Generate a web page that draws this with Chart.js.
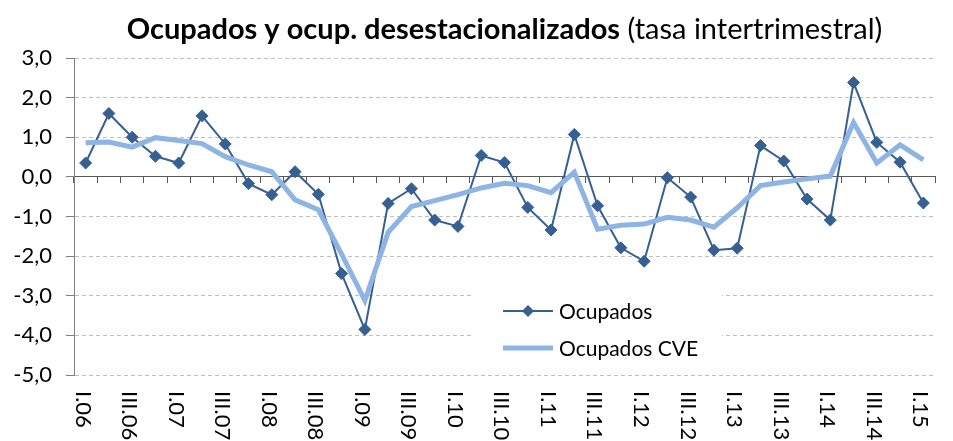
<!DOCTYPE html>
<html>
<head>
<meta charset="utf-8">
<script src="https://cdn.jsdelivr.net/npm/chart.js@4.4.1/dist/chart.umd.min.js"></script>
<style>
  html, body { margin: 0; padding: 0; background: #fff; }
  #wrap { width: 953px; height: 441px; }
</style>
</head>
<body>
<div id="wrap"><canvas id="chart"></canvas></div>
<script>
const quarters = [
  "I.06", "II.06", "III.06", "IV.06",
  "I.07", "II.07", "III.07", "IV.07",
  "I.08", "II.08", "III.08", "IV.08",
  "I.09", "II.09", "III.09", "IV.09",
  "I.10", "II.10", "III.10", "IV.10",
  "I.11", "II.11", "III.11", "IV.11",
  "I.12", "II.12", "III.12", "IV.12",
  "I.13", "II.13", "III.13", "IV.13",
  "I.14", "II.14", "III.14", "IV.14",
  "I.15"
];
const ocupados = [
  0.35, 1.60, 1.00, 0.52, 0.35, 1.54, 0.83, -0.17, -0.45, 0.13,
  -0.44, -2.44, -3.85, -0.67, -0.30, -1.09, -1.25, 0.54, 0.36, -0.77,
  -1.34, 1.07, -0.73, -1.79, -2.13, -0.02, -0.51, -1.85, -1.80, 0.79,
  0.40, -0.56, -1.09, 2.38, 0.87, 0.37, -0.66
];
const ocupadosCVE = [
  0.86, 0.88, 0.75, 0.99, 0.92, 0.84, 0.51, 0.30, 0.13, -0.58,
  -0.83, -1.95, -3.12, -1.40, -0.75, -0.60, -0.45, -0.28, -0.16, -0.22,
  -0.40, 0.12, -1.32, -1.22, -1.19, -1.02, -1.09, -1.27, -0.78, -0.22,
  -0.13, -0.05, 0.02, 1.37, 0.35, 0.81, 0.43
];
const yMin = -5, yMax = 3, yStep = 1;

const FONT = "Lato, 'Open Sans', sans-serif";
const DARK = "#376092";
const LIGHT = "#8DB4E2";

// title, rotated quarter labels and the inset legend
const decor = {
  id: "decor",
  beforeDraw(chart) {
    const { ctx, width, height } = chart;
    ctx.save();
    ctx.fillStyle = "#fff";
    ctx.fillRect(0, 0, width, height);
    ctx.restore();
  },
  afterDraw(chart) {
    const { ctx, chartArea, scales: { x } } = chart;
    ctx.save();

    // title: bold part + normal part
    const bold = "Ocupados y ocup. desestacionalizados";
    const rest = " (tasa intertrimestral)";
    const ts = 29;
    ctx.font = "bold " + ts + "px " + FONT;
    const w1 = ctx.measureText(bold).width;
    ctx.font = ts + "px " + FONT;
    const w2 = ctx.measureText(rest).width;
    let tx = (chartArea.left + chartArea.right) / 2 - (w1 + w2) / 2;
    ctx.fillStyle = "#000";
    ctx.textBaseline = "alphabetic";
    ctx.textAlign = "left";
    ctx.font = "bold " + ts + "px " + FONT;
    ctx.fillText(bold, tx, 39);
    ctx.font = ts + "px " + FONT;
    ctx.fillText(rest, tx + w1, 39);

    // category labels, every second quarter, rotated clockwise
    ctx.font = "22px " + FONT;
    ctx.textBaseline = "middle";
    quarters.forEach((q, i) => {
      if (i % 2) return;
      const px = x.getPixelForValue(i);
      ctx.save();
      ctx.translate(px - 3, 391);
      ctx.rotate(Math.PI / 2);
      ctx.fillText(q, 0, 0);
      ctx.restore();
    });

    // legend box
    ctx.fillStyle = "#fff";
    ctx.fillRect(473, 287, 249, 86);
    const ds = chart.data.datasets;
    const rows = [311, 348];
    ds.forEach((d, k) => {
      const y = rows[k];
      ctx.strokeStyle = d.borderColor;
      ctx.lineWidth = d.borderWidth;
      ctx.beginPath();
      ctx.moveTo(503, y);
      ctx.lineTo(553, y);
      ctx.stroke();
      if (d.pointRadius) {
        ctx.fillStyle = d.pointBackgroundColor;
        ctx.beginPath();
        ctx.moveTo(528, y - 6);
        ctx.lineTo(534, y);
        ctx.lineTo(528, y + 6);
        ctx.lineTo(522, y);
        ctx.closePath();
        ctx.fill();
      }
      ctx.fillStyle = "#000";
      ctx.font = "21px " + FONT;
      ctx.textAlign = "left";
      ctx.textBaseline = "middle";
      ctx.fillText(d.label, 559, y + 1);
    });
    ctx.restore();
  }
};

new Chart(document.getElementById("chart"), {
  type: "line",
  data: {
    labels: quarters,
    datasets: [
      {
        label: "Ocupados",
        data: ocupados,
        borderColor: DARK,
        borderWidth: 2,
        pointStyle: "rectRot",
        pointRadius: 6,
        pointBackgroundColor: DARK,
        pointBorderColor: DARK,
        pointBorderWidth: 1,
        tension: 0,
        order: 1,
      },
      {
        label: "Ocupados CVE",
        data: ocupadosCVE,
        borderColor: LIGHT,
        borderWidth: 5,
        pointRadius: 0,
        tension: 0,
        order: 0,
      },
    ],
  },
  options: {
    responsive: true,
    maintainAspectRatio: false,
    animation: false,
    layout: { padding: { left: 0, right: 18, top: 58, bottom: 66 } },
    plugins: {
      legend: { display: false },
      title: { display: false },
      tooltip: { enabled: false },
    },
    scales: {
      x: {
        type: "category",
        position: { y: 0 },
        offset: true,
        grid: {
          display: true,
          drawOnChartArea: false,
          drawTicks: true,
          tickLength: 6,
          tickColor: "#595959",
          tickBorderDash: [],
          offset: true,
        },
        border: { display: true, color: "#595959", width: 1 },
        ticks: { display: false, autoSkip: false },
      },
      y: {
        min: yMin,
        max: yMax,
        ticks: {
          stepSize: yStep,
          color: "#000",
          padding: 14,
          font: { family: FONT, size: 22 },
          callback: (v) => v.toFixed(1).replace(".", ","),
        },
        grid: {
          color: (c) => (c.tick && c.tick.value === 0 ? "rgba(0,0,0,0)" : "#BFBFBF"),
          tickColor: "#7F7F7F",
          tickLength: 8,
          tickBorderDash: [],
        },
        border: { display: true, color: "#7F7F7F", width: 1, dash: [4, 3] },
        afterFit: (s) => { s.width = 74; },
      },
    },
  },
  plugins: [decor],
});
</script>
</body>
</html>
